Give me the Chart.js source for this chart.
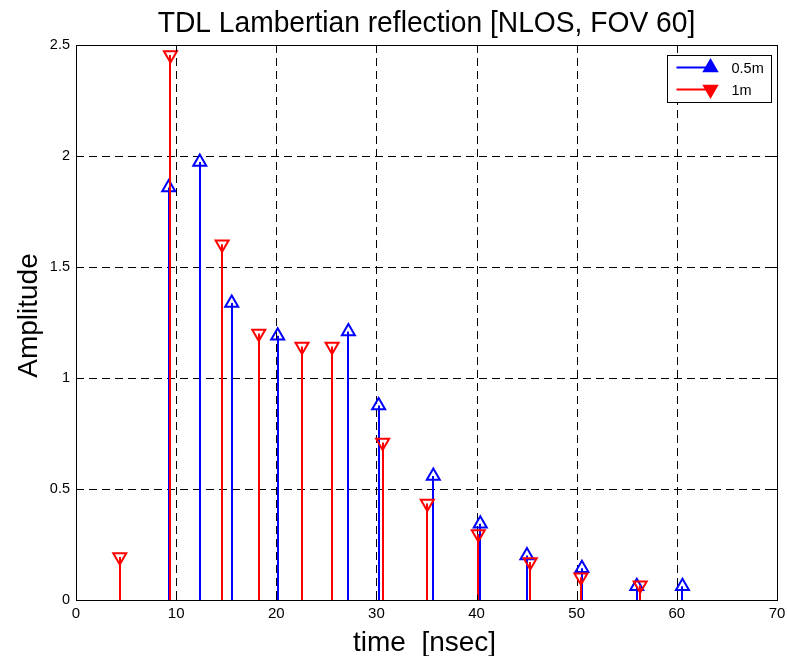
<!DOCTYPE html>
<html>
<head>
<meta charset="utf-8">
<title>TDL Lambertian reflection</title>
<script src="https://cdn.jsdelivr.net/npm/chart.js@4.4.1/dist/chart.umd.min.js"></script>
<style>
body{margin:0;background:#fff;}
</style>
</head>
<body>
<canvas id="tdl-chart" width="788" height="656"></canvas>
<script>
// tap delays [nsec] and amplitudes for the two distances
const blueTime=[9.26,12.36,15.55,20.14,27.2,30.22,35.68,40.37,45.03,50.52,56.0,60.56];
const blueAmp=[1.858,1.973,1.338,1.19,1.21,0.876,0.558,0.344,0.2,0.143,0.062,0.062];
const redTime=[4.37,9.43,14.59,18.25,22.57,25.57,30.62,35.08,40.17,45.36,50.42,56.34];
const redAmp=[0.194,2.455,1.602,1.2,1.142,1.142,0.71,0.435,0.297,0.171,0.102,0.066];
const seriesNames=['0.5m','1m'];
const xMax=70, xStep=10;
const yMax=2.5, yStep=0.5;

const FONT='"Liberation Sans", Arial, Helvetica, sans-serif';
const BLUE='#0000ff';
const RED='#ff0000';

function toPoints(xs,ys){
    return xs.map((x,i)=>({x:x,y:ys[i]}));
}

// vertical stem under every marker, drawn just before that dataset's markers
const stemPlugin={
    id:'stems',
    beforeDatasetDraw(chart,args){
        const ds=chart.data.datasets[args.index];
        const ctx=chart.ctx;
        const y0=chart.scales.y.getPixelForValue(0);
        ctx.save();
        ctx.strokeStyle=ds.borderColor;
        ctx.lineWidth=2;
        args.meta.data.forEach((pt)=>{
            const px=Math.round(pt.x);
            ctx.beginPath();
            ctx.moveTo(px,y0);
            ctx.lineTo(px,pt.y);
            ctx.stroke();
        });
        ctx.restore();
    }
};

// dashed grid, inner tick marks and the axes box
const axesPlugin={
    id:'axesBox',
    beforeDatasetsDraw(chart){
        const {ctx,chartArea:a,scales}=chart;
        ctx.save();
        ctx.strokeStyle='#000';
        ctx.lineWidth=1;
        ctx.setLineDash([8,5]);
        scales.x.ticks.forEach((t)=>{
            if(t.value<=0||t.value>=xMax) return;
            const px=Math.round(scales.x.getPixelForValue(t.value))+0.5;
            ctx.beginPath();ctx.moveTo(px,a.top);ctx.lineTo(px,a.bottom);ctx.stroke();
        });
        scales.y.ticks.forEach((t)=>{
            if(t.value<=0||t.value>=yMax) return;
            const py=Math.round(scales.y.getPixelForValue(t.value))+0.5;
            ctx.beginPath();ctx.moveTo(a.left,py);ctx.lineTo(a.right,py);ctx.stroke();
        });
        ctx.restore();
    },
    afterDatasetsDraw(chart){
        const {ctx,chartArea:a,scales}=chart;
        const L=Math.round(a.left)+0.5, R=Math.round(a.right)+0.5;
        const T=Math.round(a.top)+0.5, B=Math.round(a.bottom)+0.5;
        ctx.save();
        ctx.strokeStyle='#000';
        ctx.lineWidth=1;
        ctx.setLineDash([]);
        ctx.beginPath();
        scales.x.ticks.forEach((t)=>{
            const px=Math.round(scales.x.getPixelForValue(t.value))+0.5;
            ctx.moveTo(px,B);ctx.lineTo(px,B-6);
            ctx.moveTo(px,T);ctx.lineTo(px,T+6);
        });
        scales.y.ticks.forEach((t)=>{
            const py=Math.round(scales.y.getPixelForValue(t.value))+0.5;
            ctx.moveTo(L,py);ctx.lineTo(L+6,py);
            ctx.moveTo(R,py);ctx.lineTo(R-6,py);
        });
        ctx.stroke();
        ctx.strokeRect(L,T,R-L,B-T);
        ctx.restore();
    }
};

// title, axis labels and the legend box
const textPlugin={
    id:'labels',
    afterDraw(chart){
        const {ctx,chartArea:a}=chart;
        const cx=(a.left+a.right)/2;
        const cy=(a.top+a.bottom)/2;
        ctx.save();
        ctx.fillStyle='#000';
        ctx.textAlign='center';
        ctx.textBaseline='alphabetic';

        ctx.save();
        ctx.translate(cx,32);
        ctx.scale(0.94,1);
        ctx.font='30px '+FONT;
        ctx.fillText('TDL Lambertian reflection [NLOS, FOV 60]',0,0);
        ctx.restore();

        ctx.font='28px '+FONT;
        ctx.fillText('time  [nsec]',cx-2,651);

        ctx.save();
        ctx.translate(37,cy-7);
        ctx.rotate(-Math.PI/2);
        ctx.fillText('Amplitude',0,0);
        ctx.restore();

        // legend
        const bx=Math.round(a.right)-5.5, by=Math.round(a.top)+10.5;
        const bw=104, bh=47;
        ctx.fillStyle='#fff';
        ctx.fillRect(bx-bw,by,bw,bh);
        ctx.strokeStyle='#000';
        ctx.lineWidth=1;
        ctx.strokeRect(bx-bw,by,bw,bh);
        chart.data.datasets.forEach((ds,i)=>{
            const ly=by+12+i*22;
            const x0=bx-bw+9;
            ctx.strokeStyle=ds.borderColor;
            ctx.fillStyle=ds.borderColor;
            ctx.lineWidth=2;
            ctx.beginPath();ctx.moveTo(x0,ly);ctx.lineTo(x0+36,ly);ctx.stroke();
            Chart.helpers.drawPoint(ctx,{pointStyle:'triangle',radius:7.5,rotation:ds.pointRotation||0,borderWidth:1},x0+34,ly);
            ctx.fillStyle='#000';
            ctx.textAlign='left';
            ctx.textBaseline='middle';
            ctx.font='14.5px '+FONT;
            ctx.fillText(ds.label,x0+55,ly+1);
        });
        ctx.restore();
    }
};

function createChart(){
    const ctx=document.getElementById('tdl-chart').getContext('2d');
    return new Chart(ctx,{
        type:'scatter',
        data:{
            datasets:[
                {
                    label:seriesNames[0],
                    data:toPoints(blueTime,blueAmp),
                    borderColor:BLUE,
                    backgroundColor:'rgba(0,0,0,0)',
                    pointStyle:'triangle',
                    pointRadius:7.5,
                    pointBorderWidth:2,
                    order:2
                },
                {
                    label:seriesNames[1],
                    data:toPoints(redTime,redAmp),
                    borderColor:RED,
                    backgroundColor:'rgba(0,0,0,0)',
                    pointStyle:'triangle',
                    pointRotation:180,
                    pointRadius:7.5,
                    pointBorderWidth:2,
                    order:1
                }
            ]
        },
        options:{
            responsive:false,
            animation:false,
            events:[],
            layout:{padding:{left:0,top:45,right:11,bottom:0}},
            plugins:{
                legend:{display:false},
                title:{display:false},
                tooltip:{enabled:false}
            },
            scales:{
                x:{
                    type:'linear',
                    min:0,
                    max:xMax,
                    grid:{display:false,drawTicks:false},
                    border:{display:false},
                    ticks:{stepSize:xStep,color:'#000',padding:5,font:{family:FONT,size:15},maxRotation:0,
                        callback:(v)=>String(v)},
                    afterFit:(s)=>{s.height=56;s.paddingLeft=0;s.paddingRight=0;}
                },
                y:{
                    min:0,
                    max:yMax,
                    grid:{display:false,drawTicks:false},
                    border:{display:false},
                    ticks:{stepSize:yStep,color:'#000',padding:6,font:{family:FONT,size:14.5},
                        callback:(v)=>String(v)},
                    afterFit:(s)=>{s.width=76;s.paddingTop=0;s.paddingBottom=0;}
                }
            }
        },
        plugins:[stemPlugin,axesPlugin,textPlugin]
    });
}

try{
    createChart();
}
catch(error){
    console.error('Error creating chart:',error.message);
}
</script>
</body>
</html>
